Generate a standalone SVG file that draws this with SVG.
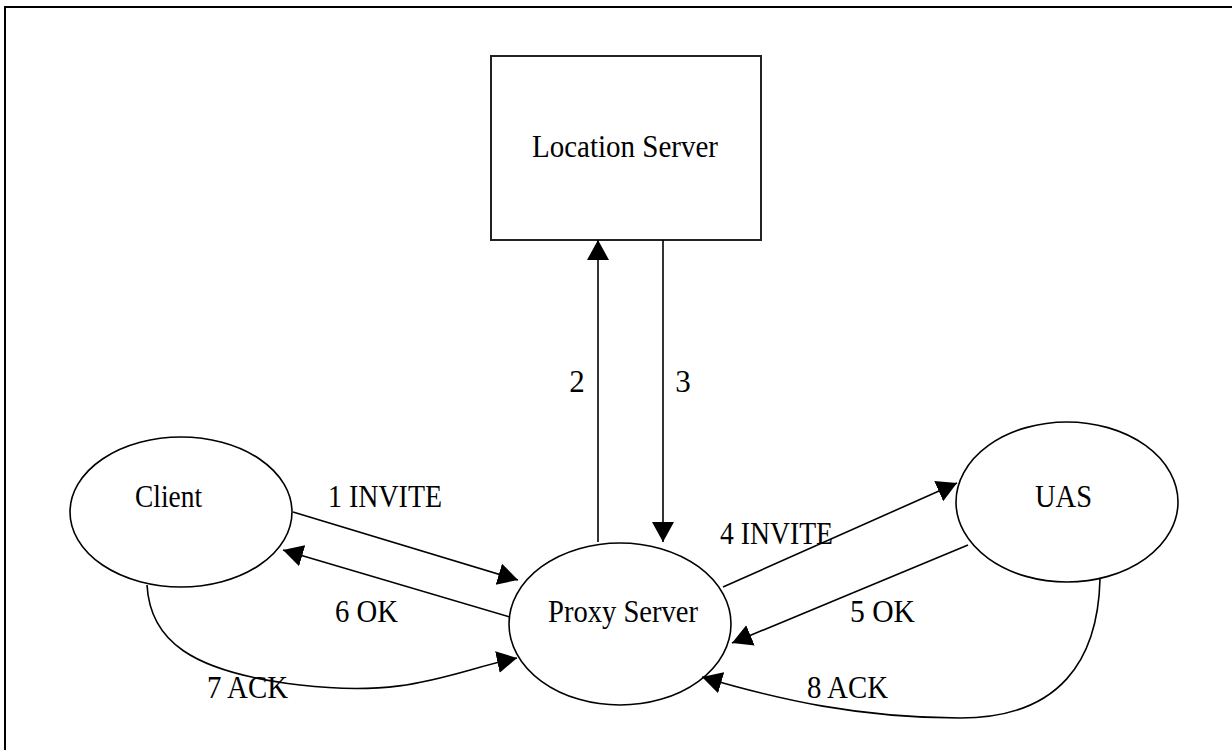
<svg xmlns="http://www.w3.org/2000/svg" width="1232" height="750" viewBox="0 0 1232 750">
<style>
.shape{fill:#fff;stroke:#000;stroke-width:1.6}
.rect{fill:#fff;stroke:#222;stroke-width:2}
.lbl{font-family:"Liberation Serif","Times New Roman",serif;font-size:31px;fill:#000}
.c{text-anchor:middle}
.edge{fill:none;stroke:#000;stroke-width:1.6}
</style>
<defs>
<marker id="ah" markerUnits="userSpaceOnUse" markerWidth="21" markerHeight="23" refX="20" refY="11" orient="auto" viewBox="0 0 21 23">
<path d="M0,0 L20,11 L0,22 z" fill="#000"/>
</marker>
</defs>
<rect width="1232" height="750" fill="#fff"/>
<path d="M5,750 L5,7 L1232,7" fill="none" stroke="#000" stroke-width="2"/>
<g id="location-server">
<rect class="rect" x="491" y="56" width="270" height="184"/>
<text class="lbl" x="532" y="157" textLength="186" lengthAdjust="spacingAndGlyphs">Location Server</text>
</g>
<g id="client">
<ellipse class="shape" cx="181" cy="512" rx="111" ry="75"/>
<text class="lbl" x="135" y="507" textLength="67" lengthAdjust="spacingAndGlyphs">Client</text>
</g>
<g id="proxy-server">
<ellipse class="shape" cx="620" cy="624" rx="111" ry="81"/>
<text class="lbl" x="548" y="622" textLength="150" lengthAdjust="spacingAndGlyphs">Proxy Server</text>
</g>
<g id="uas">
<ellipse class="shape" cx="1067" cy="502" rx="111" ry="80"/>
<text class="lbl" x="1035" y="507" textLength="57" lengthAdjust="spacingAndGlyphs">UAS</text>
</g>
<g id="connectors">
<line class="edge" x1="598" y1="542" x2="598" y2="240" marker-end="url(#ah)"/>
<line class="edge" x1="663" y1="240" x2="663" y2="542" marker-end="url(#ah)"/>
<line class="edge" x1="293" y1="512" x2="518" y2="580" marker-end="url(#ah)"/>
<line class="edge" x1="510" y1="617" x2="283" y2="550" marker-end="url(#ah)"/>
<path class="edge" d="M147,585 C150,640 190,672 300,685 S450,672 517,658" marker-end="url(#ah)"/>
<line class="edge" x1="723" y1="587" x2="957" y2="483" marker-end="url(#ah)"/>
<line class="edge" x1="968" y1="545" x2="732" y2="643" marker-end="url(#ah)"/>
<path class="edge" d="M1100,579 C1098,660 1060,718 960,718 S780,700 702,677" marker-end="url(#ah)"/>
<text class="lbl c" x="577" y="392">2</text>
<text class="lbl c" x="683" y="392">3</text>
<text class="lbl" x="328" y="507" textLength="114" lengthAdjust="spacingAndGlyphs">1 INVITE</text>
<text class="lbl" x="335" y="622" textLength="63" lengthAdjust="spacingAndGlyphs">6 OK</text>
<text class="lbl" x="207" y="698" textLength="81" lengthAdjust="spacingAndGlyphs">7 ACK</text>
<text class="lbl" x="720" y="544" textLength="113" lengthAdjust="spacingAndGlyphs">4 INVITE</text>
<text class="lbl" x="850" y="622" textLength="65" lengthAdjust="spacingAndGlyphs">5 OK</text>
<text class="lbl" x="807" y="698" textLength="81" lengthAdjust="spacingAndGlyphs">8 ACK</text>
</g>
</svg>
